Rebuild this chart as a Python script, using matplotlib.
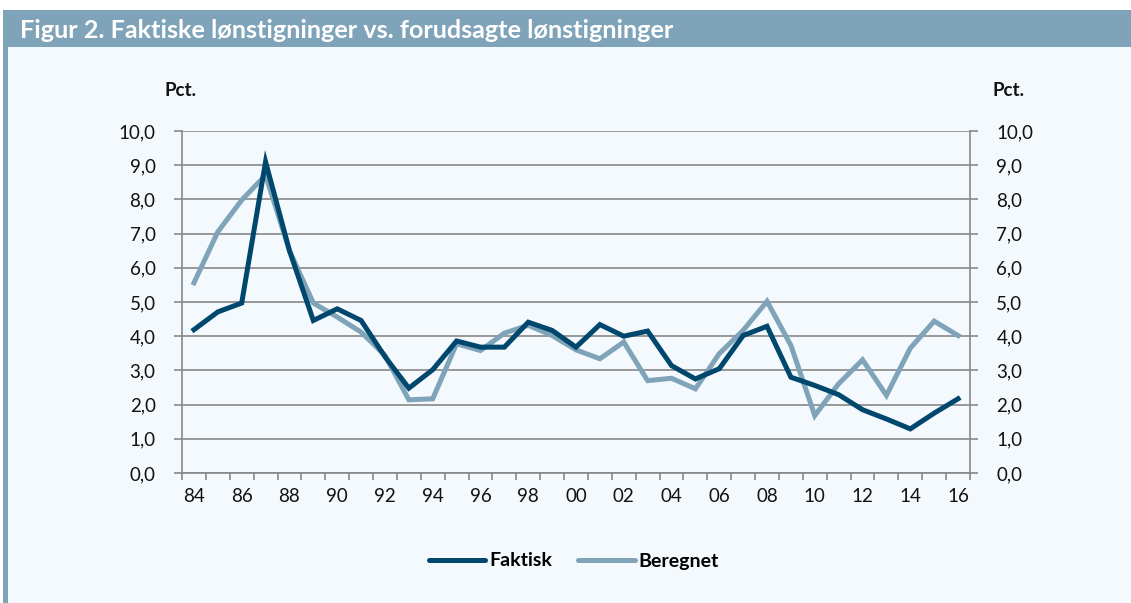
import matplotlib
matplotlib.use("Agg")
import matplotlib.pyplot as plt
from matplotlib.patches import Rectangle
from matplotlib.lines import Line2D
import numpy as np

years = ["84", "85", "86", "87", "88", "89", "90", "91", "92", "93", "94", "95", "96", "97", "98", "99",
         "00", "01", "02", "03", "04", "05", "06", "07", "08", "09", "10", "11", "12", "13", "14", "15", "16"]
faktisk = [4.19, 4.71, 4.97, 9.10, 6.50, 4.46, 4.80, 4.46, 3.40, 2.48, 3.02, 3.86, 3.68, 3.68, 4.41, 4.17,
           3.68, 4.34, 4.00, 4.15, 3.14, 2.75, 3.05, 4.02, 4.29, 2.80, 2.56, 2.29, 1.85, 1.58, 1.29, 1.75, 2.17]
beregnet = [5.56, 7.05, 7.98, 8.71, 6.50, 4.97, 4.56, 4.12, 3.44, 2.14, 2.17, 3.78, 3.58, 4.09, 4.32, 4.02,
            3.60, 3.34, 3.83, 2.70, 2.77, 2.46, 3.49, 4.17, 5.02, 3.73, 1.68, 2.61, 3.31, 2.27, 3.65, 4.44, 4.02]
yticks = [0, 1, 2, 3, 4, 5, 6, 7, 8, 9, 10]
title = "Figur 2. Faktiske lønstigninger vs. forudsagte lønstigninger"

W, H = 1131, 603
BG = "#f4f9fd"
BANNER = "#7fa3b8"
DARK = "#00476e"
LIGHT = "#7fa3b8"
GRID = "#888888"
FONT = "Lato"
TICKSIZE = 13.5

fig = plt.figure(figsize=(W / 100, H / 100), dpi=100)
fig.patch.set_facecolor("white")

def fx(x):
    return x / W

def fy(y):
    return 1 - y / H

# background panel and banner
for rect in [
    Rectangle((fx(4), 0), fx(W - 4), fy(47), facecolor=BG),
    Rectangle((fx(3), fy(47)), fx(W - 3), 37 / H, facecolor=BANNER),
    Rectangle((fx(3), 0), fx(5), fy(47), facecolor=BANNER),
]:
    rect.set_transform(fig.transFigure)
    rect.set_edgecolor("none")
    rect.set_zorder(-10)
    fig.patches.append(rect)

fig.text(fx(20), fy(30), title, color="white", fontsize=18.2, fontweight="bold",
         family=FONT, va="center", ha="left")

ax = fig.add_axes([fx(182), fy(473), fx(970 - 182), (473 - 131) / H])
ax.set_facecolor(BG)
x = np.arange(len(years))
ax.plot(x, beregnet, color=LIGHT, lw=3.6, solid_joinstyle="miter", zorder=3)
ax.plot(x, faktisk, color=DARK, lw=3.6, solid_joinstyle="miter", zorder=4)

ax.set_xlim(-0.5, len(years) - 0.5)
ax.set_ylim(0, 10)
ax.set_yticks(yticks)
ax.set_yticklabels([f"{v:.1f}".replace(".", ",") for v in yticks])
ax.yaxis.grid(True, color=GRID, lw=1.2)
ax.set_axisbelow(True)

ax.set_xticks(x[::2])
ax.set_xticklabels(years[::2])
ax.set_xticks(np.arange(-0.5, len(years)), minor=True)
ax.tick_params(axis="x", which="major", length=0, pad=11, labelsize=TICKSIZE, labelcolor="#111111")
ax.tick_params(axis="x", which="minor", length=5, width=1.2, color=GRID, direction="out")
ax.tick_params(axis="y", which="major", length=6, width=1.2, color=GRID, direction="out",
               left=True, right=True, labelleft=True, labelright=True, pad=13,
               labelsize=TICKSIZE, labelcolor="#111111")
for lab in ax.get_xticklabels() + ax.get_yticklabels():
    lab.set_family(FONT)
for t in ax.yaxis.get_major_ticks():
    t.label2.set_family(FONT)

for s in ["left", "right", "bottom"]:
    ax.spines[s].set_color(GRID)
    ax.spines[s].set_linewidth(1.2)
ax.spines["top"].set_visible(False)

fig.text(fx(181), fy(90), "Pct.", fontsize=13.5, fontweight="bold", family=FONT,
         ha="center", va="center", color="#111111")
fig.text(fx(1008), fy(90), "Pct.", fontsize=13.5, fontweight="bold", family=FONT,
         ha="center", va="center", color="#111111")

handles = [Line2D([], [], color=DARK, lw=3.6, solid_capstyle="round"),
           Line2D([], [], color=LIGHT, lw=3.6, solid_capstyle="round")]
leg = fig.legend(handles, ["Faktisk", "Beregnet"], loc="center", bbox_to_anchor=(fx(574), fy(561)),
                 ncol=2, frameon=False, handlelength=2.9, handletextpad=0.2, columnspacing=1.35,
                 prop={"family": FONT, "weight": "bold", "size": 14})

fig.savefig("out.png", dpi=100, facecolor=fig.get_facecolor())
